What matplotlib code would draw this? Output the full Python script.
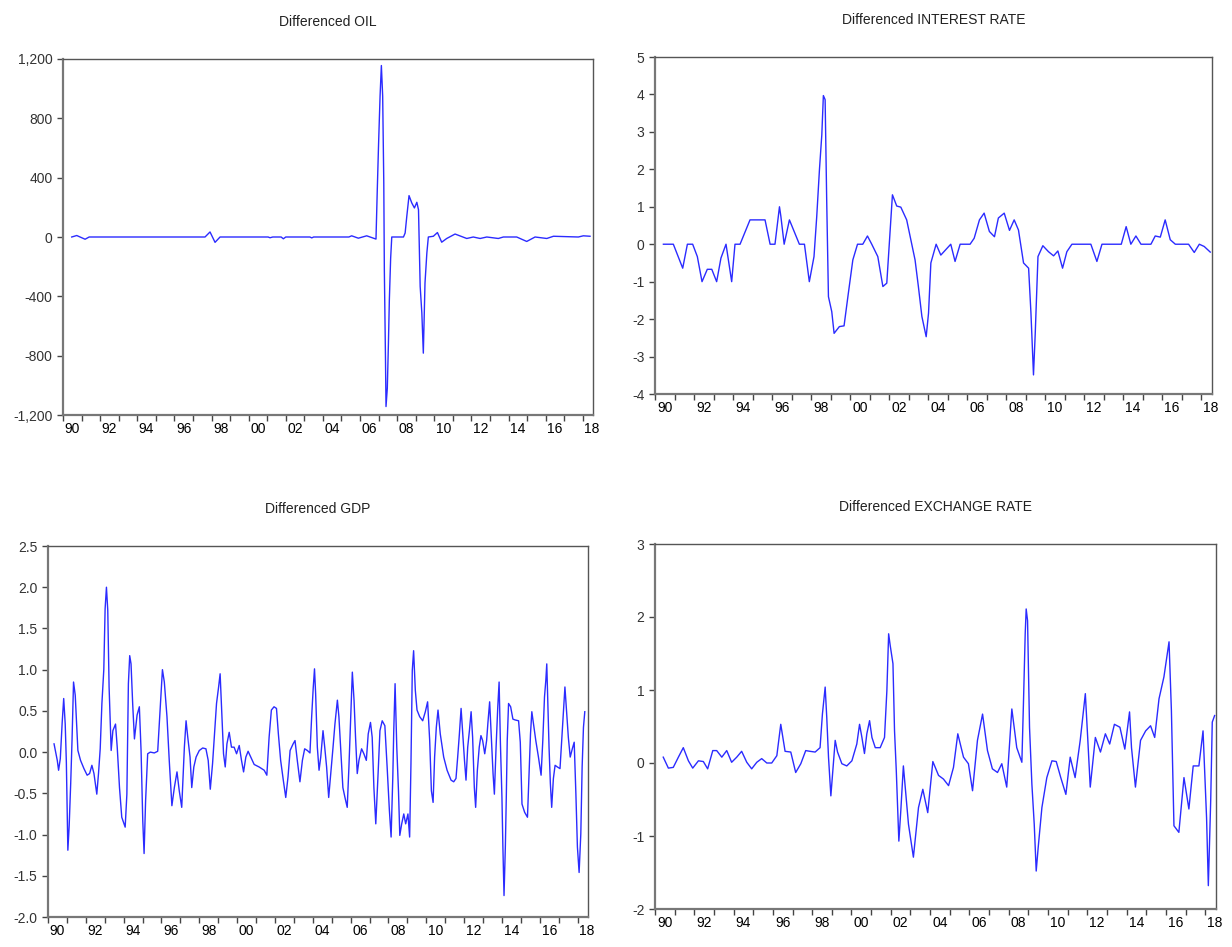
import numpy as np
import matplotlib
matplotlib.use("Agg")
from matplotlib import pyplot as plt

plt.rcParams['font.family'] = ['Liberation Sans', 'DejaVu Sans']

# values, as (decimal year, value) vertices
oil_t = [1990.47, 1990.74, 1991.19, 1991.41, 1997.65, 1997.92, 1998.19, 1998.46, 2001.05, 2001.15,
         2001.3, 2001.75, 2001.87, 2002.0, 2003.3, 2003.4, 2003.5, 2005.4, 2005.55, 2005.91,
         2006.36, 2006.86, 2006.93, 2007.0, 2007.08, 2007.15, 2007.22, 2007.28, 2007.31, 2007.37,
         2007.40, 2007.47, 2007.53, 2007.58, 2007.65, 2007.71, 2008.34, 2008.43, 2008.52, 2008.64,
         2008.79, 2008.93, 2009.06, 2009.15, 2009.24, 2009.33, 2009.41, 2009.50, 2009.60, 2009.68,
         2009.95, 2010.17, 2010.40, 2010.67, 2011.12, 2011.75, 2012.10, 2012.47, 2012.83, 2013.45,
         2013.72, 2014.44, 2014.98, 2015.43, 2016.06, 2016.42, 2017.76, 2018.03, 2018.39]
oil_v = [0, 10, -15, 0, 0, 34, -36, 0, 0, -5,
         0, 0, -12, 0, 0, -6, 0, 0, 8, -8,
         8, -14, 320, 630, 950, 1156, 950, 364, -220, -806,
         -1143, -1020, -716, -423, -142, 0, 0, 27, 140, 279,
         229, 196, 234, 184, -333, -513, -783, -310, -108, 0,
         5, 30, -35, -10, 20, -10, 0, -10, 0, -10,
         0, 0, -30, 0, -10, 5, 0, 8, 5]

rate_t = [1990.43, 1990.94, 1991.42, 1991.66, 1991.93, 1992.17, 1992.41, 1992.68, 1992.91, 1993.16,
          1993.38, 1993.64, 1993.93, 1994.10, 1994.36, 1994.87, 1995.64, 1995.90, 1996.15, 1996.38,
          1996.45, 1996.62, 1996.89, 1997.40, 1997.66, 1997.91, 1998.15, 1998.29, 1998.43, 1998.55,
          1998.63, 1998.72, 1998.80, 1998.89, 1999.06, 1999.18, 1999.45, 1999.69, 1999.91, 2000.14,
          2000.38, 2000.65, 2000.89, 2001.11, 2001.42, 2001.68, 2001.88, 2002.17, 2002.39, 2002.60,
          2002.90, 2003.33, 2003.50, 2003.68, 2003.90, 2004.02, 2004.14, 2004.41, 2004.65, 2005.16,
          2005.38, 2005.64, 2006.15, 2006.36, 2006.63, 2006.87, 2007.14, 2007.40, 2007.60, 2007.90,
          2008.17, 2008.41, 2008.63, 2008.89, 2009.15, 2009.27, 2009.40, 2009.49, 2009.63, 2009.88,
          2010.17, 2010.43, 2010.65, 2010.89, 2011.11, 2011.37, 2012.34, 2012.65, 2012.91, 2013.90,
          2014.15, 2014.39, 2014.65, 2014.91, 2015.42, 2015.64, 2015.90, 2016.15, 2016.41, 2016.67,
          2017.35, 2017.64, 2017.90, 2018.15, 2018.46]
rate_v = [0, 0, -0.64, 0, 0, -0.33, -1.0, -0.67, -0.67, -1.0,
          -0.37, 0, -1.0, 0, 0, 0.65, 0.65, 0, 0, 1.0,
          0.75, 0, 0.65, 0, 0, -1.0, -0.33, 0.74, 2.0, 2.92,
          3.97, 3.86, 1.19, -1.4, -1.8, -2.38, -2.2, -2.18, -1.31, -0.42,
          0, 0, 0.22, 0, -0.33, -1.13, -1.04, 1.32, 1.02, 0.99,
          0.65, -0.42, -1.13, -1.93, -2.47, -1.84, -0.5, 0, -0.29, 0,
          -0.46, 0, 0, 0.16, 0.65, 0.83, 0.34, 0.2, 0.7, 0.83,
          0.37, 0.65, 0.38, -0.5, -0.64, -1.84, -3.49, -2.38, -0.33, -0.04,
          -0.2, -0.31, -0.18, -0.64, -0.2, 0, 0, -0.46, 0, 0,
          0.47, 0, 0.22, 0, 0, 0.22, 0.19, 0.65, 0.12, 0,
          0, -0.22, 0, -0.06, -0.21]

gdp_t = [1990.32, 1990.49, 1990.56, 1990.65, 1990.70, 1990.75, 1990.83, 1990.91, 1990.97, 1991.05,
         1991.12, 1991.20, 1991.27, 1991.35, 1991.44, 1991.53, 1991.58, 1991.72, 1991.90, 1992.07,
         1992.20, 1992.32, 1992.43, 1992.58, 1992.67, 1992.76, 1992.85, 1992.95, 1993.02, 1993.09,
         1993.16, 1993.23, 1993.34, 1993.43, 1993.57, 1993.66, 1993.78, 1993.90, 1994.08, 1994.17,
         1994.25, 1994.32, 1994.39, 1994.48, 1994.57, 1994.71, 1994.83, 1994.92, 1995.01, 1995.08,
         1995.16, 1995.27, 1995.41, 1995.62, 1995.80, 1995.92, 1996.05, 1996.15, 1996.29, 1996.41,
         1996.55, 1996.68, 1996.82, 1996.94, 1997.07, 1997.21, 1997.30, 1997.39, 1997.51, 1997.60,
         1997.71, 1997.83, 1998.00, 1998.18, 1998.35, 1998.47, 1998.58, 1998.70, 1998.81, 1998.91,
         1999.02, 1999.10, 1999.19, 1999.28, 1999.37, 1999.46, 1999.58, 1999.70, 1999.84, 1999.97,
         2000.11, 2000.23, 2000.34, 2000.46, 2000.58, 2000.72, 2000.90, 2001.16, 2001.43, 2001.57,
         2001.69, 2001.81, 2001.95, 2002.08, 2002.18, 2002.30, 2002.44, 2002.57, 2002.69, 2002.80,
         2002.96, 2003.06, 2003.18, 2003.32, 2003.45, 2003.57, 2003.71, 2003.85, 2003.94, 2004.02,
         2004.09, 2004.15, 2004.24, 2004.33, 2004.42, 2004.54, 2004.63, 2004.73, 2004.84, 2004.95,
         2005.07, 2005.17, 2005.30, 2005.38, 2005.47, 2005.59, 2005.70, 2005.82, 2005.91, 2006.00,
         2006.09, 2006.18, 2006.26, 2006.35, 2006.44, 2006.58, 2006.70, 2006.83, 2006.93, 2007.05,
         2007.14, 2007.23, 2007.33, 2007.46, 2007.55, 2007.67, 2007.81, 2007.93, 2008.05, 2008.14,
         2008.23, 2008.28, 2008.35, 2008.44, 2008.53, 2008.60, 2008.70, 2008.81, 2008.91, 2009.03,
         2009.12, 2009.19, 2009.26, 2009.33, 2009.42, 2009.51, 2009.65, 2009.81, 2009.95, 2010.07,
         2010.18, 2010.27, 2010.36, 2010.44, 2010.53, 2010.62, 2010.74, 2010.92, 2011.10, 2011.31,
         2011.45, 2011.57, 2011.66, 2011.75, 2011.84, 2011.93, 2012.02, 2012.10, 2012.19, 2012.28,
         2012.37, 2012.45, 2012.54, 2012.61, 2012.70, 2012.80, 2012.89, 2012.98, 2013.09, 2013.19,
         2013.26, 2013.35, 2013.44, 2013.53, 2013.60, 2013.69, 2013.78, 2013.85, 2013.92, 2014.00,
         2014.05, 2014.11, 2014.18, 2014.23, 2014.28, 2014.35, 2014.46, 2014.58, 2014.70, 2014.88,
         2014.97, 2015.06, 2015.20, 2015.35, 2015.44, 2015.51, 2015.58, 2015.67, 2015.79, 2015.93,
         2016.07, 2016.16, 2016.25, 2016.32, 2016.37, 2016.42, 2016.49, 2016.56, 2016.63, 2016.72,
         2016.81, 2016.93, 2017.07, 2017.16, 2017.25, 2017.33, 2017.42, 2017.51, 2017.61, 2017.72,
         2017.82, 2017.91, 2017.99, 2018.08, 2018.17, 2018.24, 2018.31, 2018.38]
gdp_v = [0.1, -0.1, -0.22, -0.08, 0.14, 0.36, 0.65, 0.34, -0.12, -1.19,
         -0.89, -0.38, 0.14, 0.85, 0.69, 0.26, 0.02, -0.1, -0.2, -0.28,
         -0.26, -0.16, -0.26, -0.51, -0.26, 0.04, 0.59, 1.0, 1.74, 2.0,
         1.72, 0.79, 0.02, 0.26, 0.34, 0.06, -0.43, -0.79, -0.91, -0.51,
         0.83, 1.17, 1.07, 0.57, 0.16, 0.45, 0.55, 0.02, -0.83, -1.23,
         -0.59, -0.02, 0.0, -0.01, 0.01, 0.49, 1.0, 0.85, 0.43, -0.1,
         -0.65, -0.43, -0.24, -0.47, -0.67, 0.06, 0.38, 0.18, -0.06, -0.43,
         -0.18, -0.06, 0.02, 0.05, 0.04, -0.1, -0.45, -0.14, 0.24, 0.59,
         0.79, 0.95, 0.47, -0.02, -0.18, 0.1, 0.24, 0.06, 0.06, -0.02,
         0.08, -0.1, -0.24, -0.06, 0.01, -0.06, -0.15, -0.18, -0.22, -0.28,
         0.18, 0.51, 0.55, 0.53, 0.22, -0.1, -0.34, -0.55, -0.3, 0.02,
         0.1, 0.14, -0.1, -0.36, -0.1, 0.04, 0.02, -0.01, 0.43, 0.77,
         1.01, 0.71, 0.06, -0.22, -0.06, 0.26, 0.06, -0.18, -0.55, -0.26,
         0.06, 0.34, 0.63, 0.43, 0.06, -0.43, -0.55, -0.67, -0.18, 0.38,
         0.97, 0.63, 0.18, -0.26, -0.1, 0.04, -0.02, -0.1, 0.22, 0.36,
         0.18, -0.43, -0.87, -0.22, 0.26, 0.38, 0.32, -0.18, -0.71, -1.03,
         -0.3, 0.26, 0.83, 0.06, -0.47, -1.01, -0.87, -0.75, -0.87, -0.75,
         -1.03, -0.14, 0.99, 1.23, 0.75, 0.51, 0.43, 0.38, 0.49, 0.61,
         0.14, -0.47, -0.61, -0.06, 0.3, 0.51, 0.22, -0.06, -0.22, -0.34,
         -0.36, -0.32, -0.06, 0.22, 0.53, 0.22, -0.1, -0.34, 0.06, 0.26,
         0.49, 0.18, -0.43, -0.67, -0.22, 0.06, 0.2, 0.14, -0.02, 0.14,
         0.36, 0.61, 0.18, -0.26, -0.51, 0.06, 0.55, 0.85, 0.1, -0.55,
         -1.15, -1.74, -1.15, -0.55, 0.14, 0.59, 0.55, 0.4, 0.39, 0.38,
         0.12, -0.63, -0.73, -0.79, -0.22, 0.22, 0.49, 0.34, 0.14, -0.06,
         -0.28, 0.14, 0.67, 0.87, 1.07, 0.63, 0.06, -0.38, -0.67, -0.32,
         -0.16, -0.18, -0.2, 0.14, 0.47, 0.79, 0.49, 0.18, -0.06, 0.04,
         0.12, -0.51, -1.15, -1.46, -0.99, -0.18, 0.3, 0.49]

fx_t = [1990.42, 1990.68, 1990.93, 1991.19, 1991.44, 1991.70, 1991.92, 1992.21, 1992.46, 1992.68,
        1992.94, 1993.14, 1993.40, 1993.65, 1993.90, 1994.16, 1994.41, 1994.67, 1994.92, 1995.18,
        1995.43, 1995.69, 1995.94, 1996.20, 1996.40, 1996.62, 1996.91, 1997.16, 1997.42, 1997.67,
        1997.89, 1998.15, 1998.40, 1998.52, 1998.66, 1998.74, 1998.83, 1998.95, 1999.05, 1999.17,
        1999.29, 1999.51, 1999.76, 2000.02, 2000.27, 2000.41, 2000.53, 2000.66, 2000.78, 2000.92,
        2001.04, 2001.21, 2001.46, 2001.68, 2001.80, 2001.89, 2001.97, 2002.11, 2002.19, 2002.28,
        2002.41, 2002.51, 2002.64, 2002.90, 2003.15, 2003.41, 2003.63, 2003.88, 2004.14, 2004.43,
        2004.68, 2004.94, 2005.19, 2005.41, 2005.70, 2005.95, 2006.16, 2006.41, 2006.67, 2006.92,
        2007.17, 2007.43, 2007.65, 2007.90, 2008.16, 2008.41, 2008.67, 2008.75, 2008.84, 2008.89,
        2008.96, 2009.06, 2009.18, 2009.30, 2009.40, 2009.50, 2009.69, 2009.94, 2010.20, 2010.42,
        2010.65, 2010.91, 2011.13, 2011.38, 2011.64, 2011.90, 2012.02, 2012.15, 2012.41, 2012.67,
        2012.92, 2013.14, 2013.38, 2013.66, 2013.91, 2014.15, 2014.25, 2014.45, 2014.71, 2014.97,
        2015.22, 2015.43, 2015.65, 2015.90, 2016.16, 2016.28, 2016.41, 2016.66, 2016.92, 2017.17,
        2017.39, 2017.68, 2017.89, 2017.99, 2018.07, 2018.16, 2018.28, 2018.36, 2018.48]
fx_v = [0.08, -0.07, -0.06, 0.08, 0.21, 0.03, -0.07, 0.03, 0.02, -0.08,
        0.17, 0.17, 0.08, 0.17, 0.01, 0.08, 0.16, 0.01, -0.08, 0.01,
        0.06, 0.0, 0.0, 0.1, 0.53, 0.16, 0.15, -0.13, -0.01, 0.17,
        0.16, 0.15, 0.21, 0.67, 1.04, 0.63, 0.08, -0.45, -0.11, 0.31,
        0.15, -0.01, -0.04, 0.03, 0.26, 0.53, 0.35, 0.13, 0.4, 0.58,
        0.35, 0.21, 0.21, 0.35, 0.99, 1.77, 1.61, 1.36, 0.44, -0.11,
        -1.07, -0.65, -0.04, -0.84, -1.29, -0.61, -0.36, -0.68, 0.02, -0.17,
        -0.22, -0.31, -0.06, 0.4, 0.08, -0.01, -0.38, 0.31, 0.67, 0.17,
        -0.08, -0.13, -0.01, -0.33, 0.74, 0.21, 0.01, 0.81, 1.77, 2.11,
        1.95, 0.49, -0.29, -0.84, -1.48, -1.16, -0.61, -0.2, 0.03, 0.02,
        -0.2, -0.43, 0.08, -0.2, 0.31, 0.95, 0.35, -0.33, 0.35, 0.15,
        0.4, 0.26, 0.53, 0.49, 0.19, 0.7, 0.21, -0.33, 0.31, 0.44,
        0.51, 0.35, 0.88, 1.18, 1.66, 0.72, -0.86, -0.95, -0.2, -0.63,
        -0.04, -0.04, 0.44, -0.24, -0.75, -1.68, -0.52, 0.56, 0.65]

titles = ['Differenced OIL', 'Differenced INTEREST RATE',
          'Differenced GDP', 'Differenced EXCHANGE RATE']
yticks = [[-1200, -800, -400, 0, 400, 800, 1200],
          list(range(-4, 6)),
          [-2.0, -1.5, -1.0, -0.5, 0.0, 0.5, 1.0, 1.5, 2.0, 2.5],
          list(range(-2, 4))]
ylabels = [['{:,}'.format(v) for v in yticks[0]],
           [str(v) for v in yticks[1]],
           ['{:.1f}'.format(v) for v in yticks[2]],
           [str(v) for v in yticks[3]]]
series = [(oil_t, oil_v), (rate_t, rate_v), (gdp_t, gdp_v), (fx_t, fx_v)]

W, H = 1232, 947
# axes boxes in pixels: left, top, right, bottom
boxes = [(63, 59, 593, 415), (655, 57, 1212, 394),
         (48, 546, 588, 917), (655, 544, 1216, 909)]

years = np.arange(1990, 2019)
lab_years = np.arange(1990, 2019, 2)

fig = plt.figure(figsize=(W / 100, H / 100), dpi=100)
for (l, t, r, b), (xs, ys), title, tk, tl in zip(boxes, series, titles, yticks, ylabels):
    ax = fig.add_axes([l / W, 1 - b / H, (r - l) / W, (b - t) / H])
    ax.plot(xs, ys, color='#2b2bff', lw=1.0)
    ax.set_xlim(1990, 2018.55)
    ax.set_ylim(tk[0], tk[-1])
    ax.set_yticks(tk, tl)
    ax.set_xticks(years, [''] * len(years))
    ax.set_xticks(lab_years + 0.5, ['%02d' % (y % 100) for y in lab_years], minor=True)
    ax.tick_params(axis='x', which='minor', length=0, pad=5)
    ax.tick_params(which='major', direction='out', length=4, width=1, color='#444444')
    ax.tick_params(labelsize=10, labelcolor='#333333')
    for side in ['top', 'right']:
        ax.spines[side].set_color('#555555')
        ax.spines[side].set_linewidth(1.0)
    for side in ['left', 'bottom']:
        ax.spines[side].set_color('#777777')
        ax.spines[side].set_linewidth(1.6)
    ax.set_title(title, fontsize=10, color='#222222', pad=24)

plt.savefig('out.png', dpi=100)
